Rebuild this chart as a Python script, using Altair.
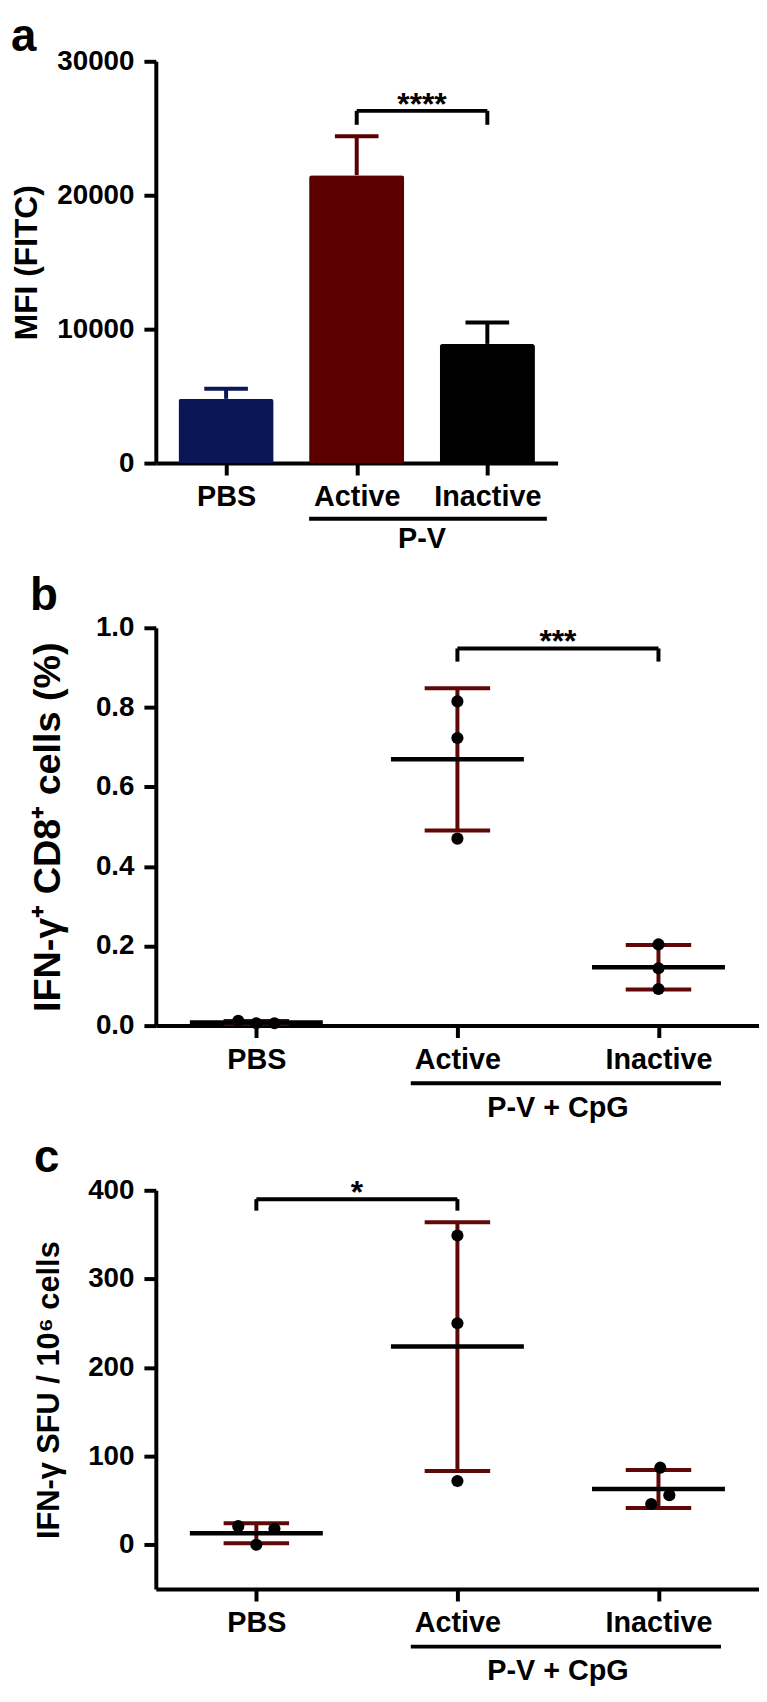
import json
import altair as alt
import pandas as pd

FONT = "Liberation Sans"

categories = ["PBS", "Active", "Inactive"]
positions = [0, 1, 2]

# ---- panel a: bar chart, mean + upper error ----
a_mean = [4800, 21500, 8900]
a_err = [750, 2900, 1600]
a_colors = ["#0b1657", "#5a0000", "#000000"]
a_ticks = [0, 10000, 20000, 30000]

# ---- panel b: scatter dot plot ----
b_pos = [0, 0, 0, 1, 1, 1, 2, 2, 2]
b_values = [0.012, 0.006, 0.006, 0.815, 0.723, 0.470, 0.204, 0.144, 0.092]
b_spread = [-1, 0, 1, 0, 0, 0, 0, 0, 0]
b_ticks = [0.0, 0.2, 0.4, 0.6, 0.8, 1.0]

# ---- panel c: scatter dot plot ----
c_pos = [0, 0, 0, 1, 1, 1, 2, 2, 2]
c_values = [21, 0, 18, 349, 250, 72, 87, 56, 46]
c_spread = [-1, 0, 1, 0, 0, 0, 0.1, 0.6, -0.4]
c_ticks = [0, 100, 200, 300, 400]

# significance brackets
a_sig = {"x1": 1, "x2": 2, "top": 26300, "drop": 25260, "label": "****"}
b_sig = {"x1": 1, "x2": 2, "top": 0.948, "drop": 0.915, "label": "***"}
c_sig = {"x1": 0, "x2": 1, "top": 390, "drop": 377, "label": "*"}

ERR_RED = "#600808"
LABEL_EXPR = "%s[datum.value]" % json.dumps(categories)
XDOM = [-0.5, 2.5]


def xenc(field):
    return alt.X(f"{field}:Q",
                 scale=alt.Scale(domain=XDOM, nice=False, zero=False),
                 axis=alt.Axis(values=positions, labelExpr=LABEL_EXPR, title=None,
                               labelFlush=False, grid=False, labelPadding=8))


def make_yenc(domain, ticks, fmt, title, tpad, tsize):
    def yenc(field):
        return alt.Y(f"{field}:Q",
                     scale=alt.Scale(domain=domain, nice=False, zero=False),
                     axis=alt.Axis(values=ticks, format=fmt, title=title,
                                   titlePadding=tpad, titleFontSize=tsize, grid=False))
    return yenc


def sig_layers(sig, yenc):
    sb = alt.Chart(pd.DataFrame([sig]))
    hbar = sb.mark_rule(strokeWidth=4, color="black").encode(
        x=xenc("x1"), x2=alt.X2("x2"), y=yenc("top"))
    lleg = sb.mark_rule(strokeWidth=4, color="black").encode(
        x=xenc("x1"), y=yenc("top"), y2=alt.Y2("drop"))
    rleg = sb.mark_rule(strokeWidth=4, color="black").encode(
        x=xenc("x2"), y=yenc("top"), y2=alt.Y2("drop"))
    stars = sb.transform_calculate(mid="(datum.x1 + datum.x2) / 2").mark_text(
        font=FONT, fontSize=32, fontWeight="bold", baseline="alphabetic", dy=4,
        color="black").encode(x=xenc("mid"), y=yenc("top"), text="label:N")
    return [hbar, lleg, rleg, stars]


def group_layers(label, height, off_left, off_right, line_dy, text_dy):
    g = alt.Chart(pd.DataFrame({"x1": [1], "x2": [2], "label": [label]}))
    uline = g.mark_rule(strokeWidth=4, color="black", xOffset=off_left,
                        x2Offset=off_right).encode(
        x=xenc("x1"), x2=alt.X2("x2"), y=alt.value(height + line_dy))
    gtext = g.transform_calculate(mid="(datum.x1 + datum.x2) / 2").mark_text(
        font=FONT, fontSize=29, fontWeight="bold", baseline="middle",
        color="black").encode(x=xenc("mid"), y=alt.value(height + text_dy),
                               text="label:N")
    return [uline, gtext]


# ---------------- panel a ----------------
A_H = 405
yenc_a = make_yenc([0, 30000], a_ticks, "d", "MFI (FITC)", 13, 32)
a_df = pd.DataFrame({"cat": categories, "pos": positions, "mean": a_mean, "err": a_err})
a_base = alt.Chart(a_df).transform_calculate(hi="datum.mean + datum.err")
a_color = alt.Color("cat:N", scale=alt.Scale(domain=categories, range=a_colors), legend=None)
a_stem = a_base.mark_rule(strokeWidth=4).encode(
    x=xenc("pos"), y=yenc_a("mean"), y2=alt.Y2("hi"), color=a_color)
a_cap = a_base.mark_rule(strokeWidth=4, xOffset=-22, x2Offset=22).encode(
    x=xenc("pos"), x2=alt.X2("pos"), y=yenc_a("hi"), color=a_color)
a_bars = a_base.mark_bar(size=96, cornerRadiusTopLeft=3, cornerRadiusTopRight=3).encode(
    x=xenc("pos"), y=yenc_a("mean"), color=a_color)
panel_a = alt.layer(
    a_stem, a_cap, a_bars, *sig_layers(a_sig, yenc_a),
    *group_layers("P-V", A_H, -48, 60, 56, 77)
).properties(width=405, height=A_H,
             title=alt.TitleParams("a", anchor="start", frame="bounds", offset=-14))


def dot_panel(pos, values, spread, yenc, sig, letter, height):
    df = pd.DataFrame({"pos": pos, "v": values, "spread": spread})
    base = alt.Chart(df)
    stats = base.transform_aggregate(
        m="mean(v)", s="stdev(v)", groupby=["pos"]
    ).transform_calculate(lo="datum.m - datum.s", hi="datum.m + datum.s")
    stem = stats.mark_rule(color=ERR_RED, strokeWidth=4).encode(
        x=xenc("pos"), y=yenc("lo"), y2=alt.Y2("hi"))
    cap_hi = stats.mark_rule(color=ERR_RED, strokeWidth=4, xOffset=-33, x2Offset=33).encode(
        x=xenc("pos"), x2=alt.X2("pos"), y=yenc("hi"))
    cap_lo = stats.mark_rule(color=ERR_RED, strokeWidth=4, xOffset=-33, x2Offset=33).encode(
        x=xenc("pos"), x2=alt.X2("pos"), y=yenc("lo"))
    pts = base.transform_calculate(px="datum.pos + datum.spread * 0.09").mark_circle(
        size=150, color="black", opacity=1).encode(x=xenc("px"), y=yenc("v"))
    mean = stats.mark_rule(color="black", strokeWidth=4.5, xOffset=-67, x2Offset=67).encode(
        x=xenc("pos"), x2=alt.X2("pos"), y=yenc("m"))
    return alt.layer(
        stem, cap_hi, cap_lo, pts, mean, *sig_layers(sig, yenc),
        *group_layers("P-V + CpG", height, -47, 63, 58, 83)
    ).properties(width=608, height=height,
                 title=alt.TitleParams(letter, anchor="start", frame="bounds", offset=-6))


yenc_b = make_yenc([0, 1.0], b_ticks, ".1f", "IFN-γ⁺ CD8⁺ cells (%)", 28, 38)
panel_b = dot_panel(b_pos, b_values, b_spread, yenc_b, b_sig, "b", 401)

yenc_c = make_yenc([-50, 400], c_ticks, "d", "IFN-γ SFU / 10⁶ cells", 22, 31)
panel_c = dot_panel(c_pos, c_values, c_spread, yenc_c, c_sig, "c", 402)

chart = alt.vconcat(panel_a, panel_b, panel_c, spacing=166, bounds="flush").properties(
    padding={"left": 3, "top": 0, "right": 0, "bottom": 0}
).configure_view(stroke=None).configure_axis(
    domainColor="black", domainWidth=4, tickColor="black", tickWidth=4, tickSize=12,
    labelFont=FONT, labelFontSize=28, labelFontWeight="bold", labelColor="black",
    labelPadding=10, titleFont=FONT, titleFontWeight="bold", titleColor="black", grid=False
).configure_axisX(labelFontSize=29, labelPadding=7).configure_title(
    font=FONT, fontSize=46, fontWeight="bold", color="black"
)

chart.save("out.html", embed_options={"renderer": "svg", "actions": False})
